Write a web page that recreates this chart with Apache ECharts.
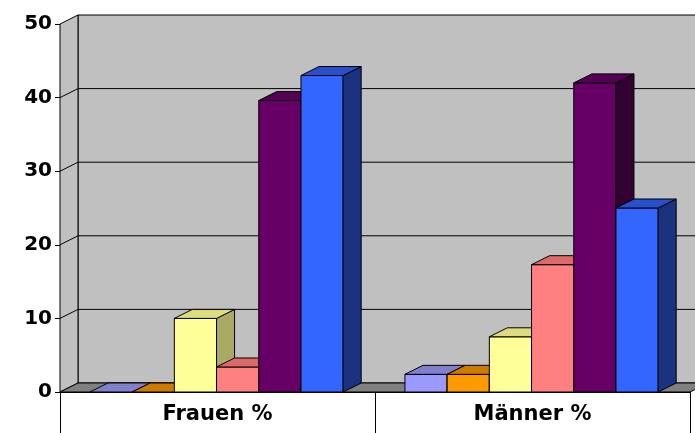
<!DOCTYPE html>
<html><head><meta charset="utf-8">
<script src="https://cdn.jsdelivr.net/npm/echarts@6/dist/echarts.min.js"></script>
<style>html,body{margin:0;background:#fff}#c{width:695px;height:433px}</style>
</head><body><div id="c"></div>
<script>
const categories = ['Frauen %', 'Männer %'];
const frauen = [0, 0, 10, 3.4, 39.6, 43];
const maenner = [2.4, 2.4, 7.5, 17.3, 42, 25];
const yTicks = [0, 10, 20, 30, 40, 50];
const front = ['#9999ff', '#ff9900', '#ffff99', '#ff8080', '#660066', '#3366ff'];
const side  = ['#6666aa', '#aa6600', '#aaaa66', '#aa5555', '#330033', '#1a3380'];
const top_  = ['#8080cc', '#cc7a00', '#dddd80', '#dd6a6a', '#550055', '#2850cc'];
const DX = 18, DY = -9;

const data = [];
[frauen, maenner].forEach((arr, c) => arr.forEach((v, s) => data.push([c, s, v])));

const chart = echarts.init(document.getElementById('c'));
chart.setOption({
  animation: false,
  grid: { left: 60, right: 5, top: 24, bottom: 41 },
  xAxis: { type: 'category', data: categories,
    axisLine: { lineStyle: { color: '#000' } },
    axisTick: { show: false },
    axisLabel: { fontFamily: 'DejaVu Sans', fontWeight: 'bold', fontSize: 21, color: '#000', margin: 12 } },
  yAxis: { type: 'value', min: 0, max: 50, interval: 10,
    axisLine: { show: false }, axisTick: { show: true, length: 5, lineStyle: { color: '#000' } },
    splitLine: { show: false },
    axisLabel: { fontFamily: 'DejaVu Sans', fontWeight: 'bold', fontSize: 20, color: '#000', margin: 8 } },
  series: [
    { type: 'custom', z: 1, data: [[0]], renderItem: (p, api) => {
        const o = api.coord([0, 0]); const bw = api.size([1, 0])[0];
        const x0 = o[0] - bw / 2; const x1 = x0 + 2 * bw;
        const y0 = o[1]; const yt = api.coord([0, 50])[1];
        const ch = [];
        ch.push({ type: 'polygon', shape: { points: [[x0 + DX, yt + DY], [x1 + DX, yt + DY], [x1 + DX, y0 + DY], [x0 + DX, y0 + DY]] }, style: { fill: '#c0c0c0', stroke: '#000', lineWidth: 1 } });
        ch.push({ type: 'polygon', shape: { points: [[x0, yt], [x0 + DX, yt + DY], [x0 + DX, y0 + DY], [x0, y0]] }, style: { fill: '#c0c0c0', stroke: '#000', lineWidth: 1 } });
        ch.push({ type: 'polygon', shape: { points: [[x0, y0], [x0 + DX, y0 + DY], [x1 + DX, y0 + DY], [x1, y0]] }, style: { fill: '#808080', stroke: '#000', lineWidth: 1 } });
        yTicks.forEach(t => { if (t === 0 || t === 50) return; const y = api.coord([0, t])[1];
          ch.push({ type: 'polyline', shape: { points: [[x0, y], [x0 + DX, y + DY], [x1 + DX, y + DY]] }, style: { stroke: '#000', lineWidth: 1, fill: null } }); });
        [0, 1, 2].forEach(k => { const x = Math.round(x0 + k * bw) + 0.5;
          ch.push({ type: 'line', shape: { x1: x, y1: y0, x2: x, y2: 433 }, style: { stroke: '#000', lineWidth: 1 } }); });
        return { type: 'group', children: ch };
      } },
    { type: 'custom', z: 2, data: data, renderItem: (p, api) => {
        const c = api.value(0), s = api.value(1), v = api.value(2);
        const bw = api.size([1, 0])[0];
        const base = api.coord([c, 0]); const topY = api.coord([c, v])[1];
        const w = bw * 0.134;
        const xl = base[0] - bw / 2 + bw * 0.095 + s * w, xr = xl + w, yb = base[1];
        const st = { stroke: '#000', lineWidth: 1 };
        return { type: 'group', children: [
          { type: 'polygon', shape: { points: [[xl, topY], [xr, topY], [xr, yb], [xl, yb]] }, style: Object.assign({ fill: front[s] }, st) },
          { type: 'polygon', shape: { points: [[xr, topY], [xr + DX, topY + DY], [xr + DX, yb + DY], [xr, yb]] }, style: Object.assign({ fill: side[s] }, st) },
          { type: 'polygon', shape: { points: [[xl, topY], [xl + DX, topY + DY], [xr + DX, topY + DY], [xr, topY]] }, style: Object.assign({ fill: top_[s] }, st) }
        ] };
      } }
  ]
});
</script></body></html>
